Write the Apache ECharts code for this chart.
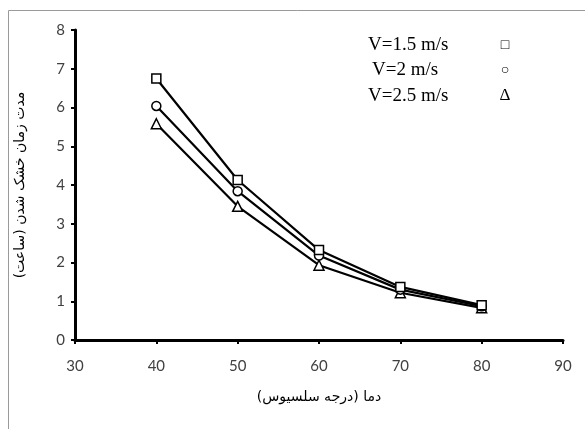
<!DOCTYPE html>
<html>
<head>
<meta charset="utf-8">
<script src="https://cdn.jsdelivr.net/npm/echarts@6/dist/echarts.min.js"></script>
<style>
  html, body { margin: 0; padding: 0; background: #fff; }
  #chart { width: 585px; height: 429px; }
</style>
</head>
<body>
<div id="chart"></div>
<script>
// Drying time (hours) versus temperature for three air velocities
const temperatures = [40, 50, 60, 70, 80];
const seriesNames = ['V=1.5 m/s', 'V=2 m/s', 'V=2.5 m/s'];
const legendGlyphs = ['\u25A1', '\u25CB', '\u0394'];
const v15 = [6.75, 4.13, 2.32, 1.37, 0.9];
const v20 = [6.04, 3.84, 2.18, 1.3, 0.87];
const v25 = [5.58, 3.45, 1.93, 1.22, 0.83];
const xTicks = [30, 40, 50, 60, 70, 80, 90];
const yTicks = [0, 1, 2, 3, 4, 5, 6, 7, 8];

const xTitle = 'دما (درجه سلسیوس)';
const yTitle = 'مدت زمان خشک شدن (ساعت)';

const values = [v15, v20, v25];
const symbols = ['rect', 'circle', 'triangle'];
const symbolSizes = [9, 9, 10];

const chart = echarts.init(document.getElementById('chart'), null, { renderer: 'canvas' });

const series = values.map((vals, i) => ({
  name: seriesNames[i],
  type: 'line',
  data: temperatures.map((t, j) => [t, vals[j]]),
  symbol: symbols[i],
  symbolSize: symbolSizes[i],
  showAllSymbol: true,
  lineStyle: { color: '#000', width: 2.2 },
  itemStyle: { color: '#fff', borderColor: '#000', borderWidth: 1.5 },
  z: 3 - i
}));

// legend drawn as text rows: name followed by a glyph column
const legendRows = [
  { x: 368, y: 45 },
  { x: 372, y: 70 },
  { x: 368, y: 96 }
];
const graphics = [
  {
    type: 'rect',
    left: 6, top: 8,
    shape: { width: 600, height: 440 },
    style: { fill: 'none', stroke: '#9a9a9a', lineWidth: 1 },
    silent: true, z: 0
  }
];
seriesNames.forEach((name, i) => {
  graphics.push({
    type: 'text',
    x: legendRows[i].x, y: legendRows[i].y,
    style: {
      text: name, fill: '#000',
      font: '19px "Liberation Serif"',
      textVerticalAlign: 'middle', textAlign: 'left'
    }
  });
  graphics.push({
    type: 'text',
    x: 505, y: legendRows[i].y,
    style: {
      text: legendGlyphs[i], fill: '#000',
      font: (i === 2 ? '17px' : '14px') + ' "Liberation Serif"',
      textVerticalAlign: 'middle', textAlign: 'center'
    }
  });
});

chart.setOption({
  animation: false,
  backgroundColor: '#fff',
  grid: { left: 75, right: 22, top: 30, bottom: 89, containLabel: false },
  xAxis: {
    type: 'value',
    min: xTicks[0], max: xTicks[xTicks.length - 1], interval: 10,
    name: xTitle,
    nameLocation: 'middle',
    nameGap: 50,
    nameTextStyle: { color: '#000', fontSize: 14, fontFamily: 'DejaVu Sans' },
    axisLine: { show: true, onZero: false, lineStyle: { color: '#000', width: 3 } },
    axisTick: { show: true, inside: false, length: 4, lineStyle: { color: '#000', width: 2 } },
    axisLabel: { color: '#404040', fontSize: 15, fontFamily: 'Lato', margin: 19 },
    splitLine: { show: false }
  },
  yAxis: {
    type: 'value',
    min: yTicks[0], max: yTicks[yTicks.length - 1], interval: 1,
    name: yTitle,
    nameLocation: 'middle',
    nameRotate: 90,
    nameGap: 48,
    nameTextStyle: { color: '#000', fontSize: 14, fontFamily: 'DejaVu Sans' },
    axisLine: { show: true, onZero: false, lineStyle: { color: '#000', width: 3 } },
    axisTick: { show: true, inside: false, length: 4, lineStyle: { color: '#000', width: 2 } },
    axisLabel: { color: '#404040', fontSize: 15, fontFamily: 'Lato', margin: 10 },
    splitLine: { show: false }
  },
  graphic: graphics,
  series: series
});
</script>
</body>
</html>
